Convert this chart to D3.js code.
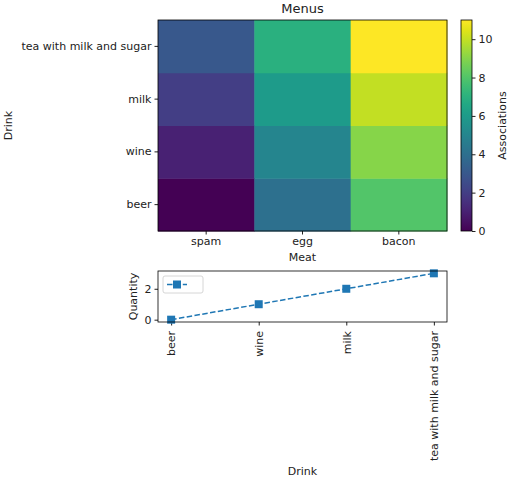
<!DOCTYPE html>
<html lang="en">
<head>
    <meta charset="UTF-8">
    <title>Menus</title>
    <script type="text/javascript" src="https://d3js.org/d3.v7.min.js"></script>
    <style>
        body{ margin:0; background:white; }
        text{ font-family:"DejaVu Sans", sans-serif; fill:#222; }
    </style>
</head>
<body>
<script type="text/javascript">
    // data
    var drinks=["beer","wine","milk","tea with milk and sugar"];
    var meats=["spam","egg","bacon"];
    // associations[drink][meat]
    var associations=[
        [0,4,8],
        [1,5,9],
        [2,6,10],
        [3,7,11]
    ];
    var quantity=[0,1,2,3];
    var colorTicks=[0,2,4,6,8,10];
    var qtyTicks=[0,2];

    var width=512, height=480, fs=11;
    var svg=d3.select("body").append("svg").attr("width",width).attr("height",height);

    // ---- heatmap ----
    var hm={left:158,right:447,top:20,bottom:231};
    var x=d3.scaleBand().domain(meats).range([hm.left,hm.right]);
    var y=d3.scaleBand().domain(drinks).range([hm.bottom,hm.top]);
    var color=d3.scaleSequential(d3.interpolateViridis).domain([0,11]);

    var cells=[];
    drinks.forEach(function(dr,i){
        meats.forEach(function(m,j){ cells.push({drink:dr,meat:m,v:associations[i][j]}); });
    });
    svg.append("g").selectAll("rect").data(cells).enter().append("rect")
        .attr("x",function(d){return x(d.meat);})
        .attr("y",function(d){return y(d.drink);})
        .attr("width",x.bandwidth()+0.5)
        .attr("height",y.bandwidth()+0.5)
        .attr("fill",function(d){return color(d.v);});

    function styleAxis(g){
        g.select(".domain").remove();
        g.selectAll("line").attr("stroke","#222");
        g.selectAll("text").attr("font-size",fs).attr("font-family","DejaVu Sans").attr("fill","#222");
    }
    svg.append("g").attr("transform","translate(0,"+hm.bottom+")")
        .call(d3.axisBottom(x).tickSize(3.5).tickPadding(3)).call(styleAxis);
    svg.append("g").attr("transform","translate("+hm.left+",0)")
        .call(d3.axisLeft(y).tickSize(3.5).tickPadding(3)).call(styleAxis);
    svg.append("rect").attr("x",hm.left).attr("y",hm.top)
        .attr("width",hm.right-hm.left).attr("height",hm.bottom-hm.top)
        .attr("fill","none").attr("stroke","#000").attr("stroke-width",0.8);

    svg.append("text").attr("x",(hm.left+hm.right)/2).attr("y",13).attr("text-anchor","middle")
        .attr("font-size",13).text("Menus");
    svg.append("text").attr("x",(hm.left+hm.right)/2).attr("y",261).attr("text-anchor","middle")
        .attr("font-size",fs).text("Meat");
    svg.append("text").attr("transform","translate(12,"+((hm.top+hm.bottom)/2)+") rotate(-90)")
        .attr("text-anchor","middle").attr("font-size",fs).text("Drink");

    // ---- colorbar ----
    var cb={left:461,right:472};
    var cy=d3.scaleLinear().domain([0,11]).range([hm.bottom,hm.top]);
    var grad=svg.append("defs").append("linearGradient").attr("id","vir")
        .attr("x1","0").attr("y1","1").attr("x2","0").attr("y2","0");
    d3.range(0,1.0001,0.05).forEach(function(t){
        grad.append("stop").attr("offset",t).attr("stop-color",d3.interpolateViridis(t));
    });
    svg.append("rect").attr("x",cb.left).attr("y",hm.top).attr("width",cb.right-cb.left)
        .attr("height",hm.bottom-hm.top).attr("fill","url(#vir)")
        .attr("stroke","#000").attr("stroke-width",0.8);
    svg.append("g").attr("transform","translate("+cb.right+",0)")
        .call(d3.axisRight(cy).tickValues(colorTicks).tickSize(3.5).tickPadding(3)).call(styleAxis);
    svg.append("text").attr("transform","translate(506,"+((hm.top+hm.bottom)/2)+") rotate(-90)")
        .attr("text-anchor","middle").attr("font-size",fs).text("Associations");

    // ---- line plot ----
    var lp={left:158,right:447,top:271,bottom:322};
    var lx=d3.scaleLinear().domain([-0.15,3.15]).range([lp.left,lp.right]);
    var ly=d3.scaleLinear().domain([-0.15,3.15]).range([lp.bottom,lp.top]);
    var blue="#1f77b4";

    var ga=svg.append("g").attr("transform","translate(0,"+lp.bottom+")")
        .call(d3.axisBottom(lx).tickValues(d3.range(drinks.length)).tickFormat(function(i){return drinks[i];})
            .tickSize(3.5).tickPadding(3)).call(styleAxis);
    ga.selectAll("text").attr("transform","rotate(-90)").attr("text-anchor","end")
        .attr("dy","0.35em").attr("x",-9).attr("y",0);
    svg.append("g").attr("transform","translate("+lp.left+",0)")
        .call(d3.axisLeft(ly).tickValues(qtyTicks).tickFormat(d3.format("d")).tickSize(3.5).tickPadding(3))
        .call(styleAxis);

    var line=d3.line().x(function(d,i){return lx(i);}).y(function(d){return ly(d);});
    var plot=svg.append("g");
    plot.append("path").datum(quantity).attr("d",line).attr("fill","none")
        .attr("stroke",blue).attr("stroke-width",1.5).attr("stroke-dasharray","5.5,2.4");
    plot.selectAll("rect.m").data(quantity).enter().append("rect").attr("class","m")
        .attr("x",function(d,i){return lx(i)-4;}).attr("y",function(d){return ly(d)-4;})
        .attr("width",8).attr("height",8).attr("fill",blue);
    svg.append("rect").attr("x",lp.left).attr("y",lp.top)
        .attr("width",lp.right-lp.left).attr("height",lp.bottom-lp.top)
        .attr("fill","none").attr("stroke","#000").attr("stroke-width",0.8);

    // legend (no label)
    var lg=svg.append("g");
    lg.append("rect").attr("x",163).attr("y",276).attr("width",40).attr("height",17).attr("rx",2)
        .attr("fill","white").attr("fill-opacity",0.8).attr("stroke","#ccc").attr("stroke-width",0.8);
    lg.append("line").attr("x1",167).attr("x2",187).attr("y1",284.5).attr("y2",284.5)
        .attr("stroke",blue).attr("stroke-width",1.5).attr("stroke-dasharray","5.5,2.4");
    lg.append("rect").attr("x",173).attr("y",280.5).attr("width",8).attr("height",8).attr("fill",blue);

    svg.append("text").attr("transform","rotate(-90)").attr("x",-(lp.top+lp.bottom)/2).attr("y",137)
        .attr("text-anchor","middle").attr("font-size",fs).text("Quantity");
    svg.append("text").attr("x",(lp.left+lp.right)/2).attr("y",475).attr("text-anchor","middle")
        .attr("font-size",fs).text("Drink");
</script>
</body>
</html>
